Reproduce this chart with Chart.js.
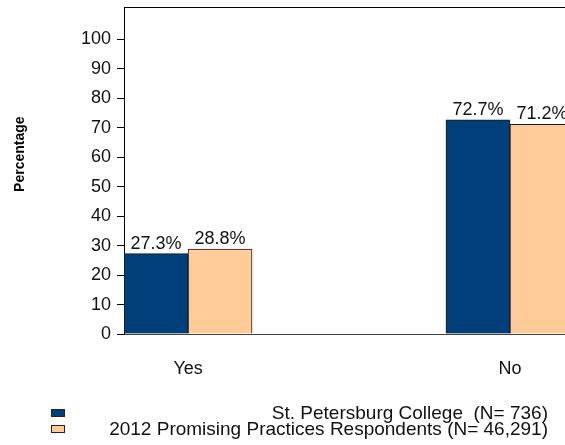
<!DOCTYPE html>
<html>
<head>
<meta charset="utf-8">
<script src="https://cdn.jsdelivr.net/npm/chart.js@4/dist/chart.umd.min.js"></script>
<style>
  html, body { margin: 0; padding: 0; background: #fff; }
  #wrap { position: relative; width: 565px; height: 445px; font-family: "Liberation Sans", Arial, sans-serif; }
  #legend { position: absolute; left: 51px; top: 405px; width: 497px; font-size: 19px; line-height: 16px; color: #111; }
  .row { display: flex; align-items: center; height: 16px; }
  .box { width: 12px; height: 6px; border: 1px solid #222; }
  .txt { flex: 1; text-align: right; white-space: pre; }
</style>
</head>
<body>
<div id="wrap">
  <canvas id="grafico"></canvas>
  <div id="legend"></div>
</div>
<script>
const categorias = ["Yes", "No"];
const seriesNomes = ["St. Petersburg College  (N= 736)", "2012 Promising Practices Respondents (N= 46,291)"];
const valoresCollege = [27.3, 72.7];
const valoresPromising = [28.8, 71.2];
const yTicks = [0, 10, 20, 30, 40, 50, 60, 70, 80, 90, 100];
const cores = ["#003f7a", "#ffcc99"];

const fonte = { family: "'Liberation Sans', Arial, sans-serif", size: 18 };

// rotulos de porcentagem acima das barras
const rotulos = {
  id: "rotulos",
  afterDatasetsDraw(chart) {
    const ctx = chart.ctx;
    ctx.save();
    ctx.font = "18px 'Liberation Sans', Arial, sans-serif";
    ctx.fillStyle = "#111";
    ctx.textAlign = "center";
    ctx.textBaseline = "bottom";
    chart.data.datasets.forEach((ds, i) => {
      chart.getDatasetMeta(i).data.forEach((bar, j) => {
        ctx.fillText(ds.data[j].y.toFixed(1) + "%", bar.x, bar.y - 1);
      });
    });
    ctx.restore();
  },
};

// linha superior da area e titulo do eixo y
const moldura = {
  id: "moldura",
  afterDraw(chart) {
    const { ctx, chartArea } = chart;
    ctx.save();
    ctx.strokeStyle = "#000";
    ctx.lineWidth = 1;
    ctx.beginPath();
    ctx.moveTo(chartArea.left, chartArea.top + 0.5);
    ctx.lineTo(chartArea.right, chartArea.top + 0.5);
    ctx.stroke();
    ctx.translate(20, chartArea.top + (chartArea.bottom - chartArea.top) * 0.45);
    ctx.rotate(-Math.PI / 2);
    ctx.font = "bold 14px 'Liberation Sans', Arial, sans-serif";
    ctx.fillStyle = "#000";
    ctx.textAlign = "center";
    ctx.textBaseline = "middle";
    ctx.fillText("Percentage", 0, 0);
    ctx.restore();
  },
};

new Chart(document.getElementById("grafico"), {
  type: "bar",
  data: {
    datasets: [
      {
        label: seriesNomes[0],
        data: categorias.map((c, i) => ({ x: i, y: valoresCollege[i] })),
        backgroundColor: cores[0],
        borderColor: "#1a1a1a",
        borderWidth: 1,
      },
      {
        label: seriesNomes[1],
        data: categorias.map((c, i) => ({ x: i, y: valoresPromising[i] })),
        backgroundColor: cores[1],
        borderColor: "#1a1a1a",
        borderWidth: 1,
      },
    ],
  },
  options: {
    responsive: true,
    maintainAspectRatio: false,
    animation: false,
    barThickness: 64,
    layout: { padding: { top: 7, right: 0, bottom: 0, left: 0 } },
    plugins: { legend: { display: false }, tooltip: { enabled: false } },
    scales: {
      x: {
        type: "linear",
        offset: false,
        min: -0.199,
        max: 1.171,
        afterBuildTicks: (scale) => { scale.ticks = categorias.map((c, i) => ({ value: i })); },
        afterFit: (scale) => { scale.height = 111; scale.paddingLeft = 0; scale.paddingRight = 0; },
        ticks: {
          callback: (v) => categorias[v],
          font: fonte,
          color: "#111",
          padding: 16,
          maxRotation: 0,
        },
        grid: { display: false },
        border: { display: true, color: "#444", width: 1 },
      },
      y: {
        min: 0,
        max: 111,
        afterBuildTicks: (scale) => { scale.ticks = yTicks.map(v => ({ value: v })); },
        afterFit: (scale) => { scale.width = 124; scale.paddingTop = 0; scale.paddingBottom = 0; },
        ticks: { font: fonte, color: "#111", padding: 6 },
        grid: { drawOnChartArea: false, drawTicks: true, tickLength: 7, color: "#000" },
        border: { display: true, color: "#000", width: 1 },
      },
    },
  },
  plugins: [rotulos, moldura],
});

// legenda em html, texto alinhado a direita
const legenda = document.getElementById("legend");
seriesNomes.forEach((nome, i) => {
  const row = document.createElement("div");
  row.className = "row";
  row.innerHTML = '<span class="box" style="background:' + cores[i] + '"></span><span class="txt"></span>';
  row.querySelector(".txt").textContent = nome;
  legenda.appendChild(row);
});
</script>
</body>
</html>
